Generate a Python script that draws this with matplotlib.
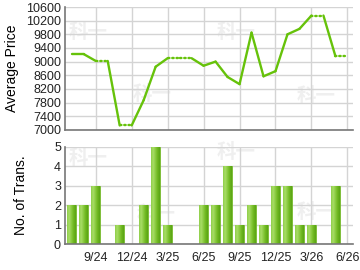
# monthly average price + number of transactions

import matplotlib
matplotlib.use("Agg")
import matplotlib.pyplot as plt
import numpy as np
from matplotlib.colors import LinearSegmentedColormap

# months counted from 6/24 (index 0)
months = list(range(1, 25))  # 7/24 .. 6/26
price = [9220, 9220, 9020, 9020, 7130, 7130, 7870, 8850, 9100, 9100, 9100,
         8880, 9000, 8550, 8340, 9850, 8570, 8720, 9800, 9960, 10350, 10350,
         9160, 9160]
trans = [2, 2, 3, 0, 1, 0, 2, 5, 1, 0, 0,
         2, 2, 4, 1, 2, 1, 3, 3, 1, 1, 0,
         3, 0]
tick_pos = [3, 6, 9, 12, 15, 18, 21, 24]
tick_labels = ["9/24", "12/24", "3/25", "6/25", "9/25", "12/25", "3/26", "6/26"]

plt.rcParams['font.family'] = ['Liberation Sans', 'DejaVu Sans']
plt.rcParams['font.size'] = 9

line_col = "#66c20a"
grid_col = "#d4d4d4"
spine_col = "#777777"

fig = plt.figure(figsize=(3.6, 2.7), dpi=100)
ax1 = fig.add_axes([0.181, 0.519, 0.799, 0.455])
ax2 = fig.add_axes([0.181, 0.096, 0.799, 0.36])

for ax in (ax1, ax2):
    ax.set_xlim(0.45, 24.45)
    ax.set_xticks(tick_pos)
    ax.set_facecolor("none")
    for s in ("top", "right"):
        ax.spines[s].set_visible(False)
    for s in ("left", "bottom"):
        ax.spines[s].set_color(spine_col)
        ax.spines[s].set_linewidth(1.2)
    ax.grid(True, color=grid_col, linewidth=1)
    ax.set_axisbelow(True)
    ax.tick_params(length=0, pad=3, colors="#222222")

# faint watermark behind everything (figure pixel positions)
for (px, py) in [(88, 32), (152, 95), (236, 33), (316, 97),
                 (88, 158), (156, 215), (236, 153), (316, 213)]:
    fig.text(px / 360, 1 - py / 270, "科一", fontsize=14, fontweight="bold",
             color="#efefef", ha="center", va="center",
             family=["Noto Sans CJK SC", "DejaVu Sans"], zorder=-5)

# price line: solid where there were transactions, dotted when carried over
for i in range(len(months) - 1):
    style = "-" if trans[i + 1] > 0 else (0, (0.6, 1.2))
    ax1.plot(months[i:i + 2], price[i:i + 2], color=line_col, lw=1.7,
             linestyle=style, solid_capstyle="round", dash_capstyle="round",
             zorder=3)
ax1.set_ylim(7000, 10600)
ax1.set_yticks(np.arange(7000, 10601, 400))
ax1.set_xticklabels([])
ax1.set_ylabel("Average Price", fontsize=10, labelpad=5)

# bars with a cylinder-like gradient
cmap = LinearSegmentedColormap.from_list(
    "bar", ["#8fcf4a", "#a8dc66", "#8acb40", "#6db61f", "#5aa514"])
grad = np.linspace(0, 1, 64).reshape(1, -1)
bars = ax2.bar(months, trans, width=0.72, color="#8cc943",
               edgecolor="#74b82c", linewidth=0.6, zorder=2)
for b, v in zip(bars, trans):
    if v == 0:
        continue
    x0, w, h = b.get_x(), b.get_width(), b.get_height()
    im = ax2.imshow(grad, cmap=cmap, aspect="auto",
                    extent=(x0, x0 + w, 0, h), zorder=2.5)
    im.set_clip_path(b)
ax2.set_xlim(0.45, 24.45)
ax2.set_ylim(0, 5)
ax2.set_yticks(range(0, 6))
ax2.set_xticklabels(tick_labels)
ax2.tick_params(axis="x", pad=6)
ax2.set_ylabel("No. of Trans.", fontsize=10, labelpad=19)

plt.savefig("out.png", dpi=100)
